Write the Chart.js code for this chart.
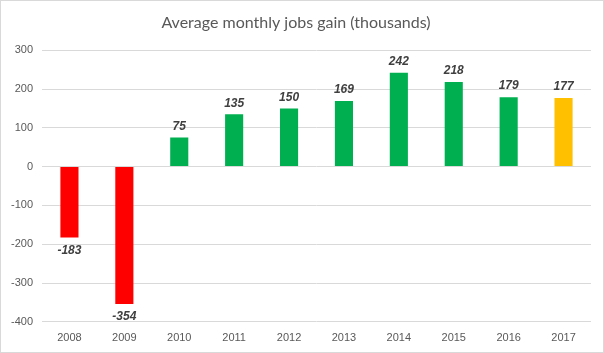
<!DOCTYPE html>
<html lang="en">
<head>
    <meta charset="UTF-8">
    <title>Average monthly jobs gain</title>
    <script src="https://cdn.jsdelivr.net/npm/chart.js"></script>
    <style>
        body {
            margin: 0;
            background-color: white;
        }
        .frame {
            width: 602px;
            height: 351px;
            border: 1px solid #d9d9d9;
        }
    </style>
</head>
<body>
    <div class="frame">
        <canvas id="jobsChart" width="602" height="351"></canvas>
    </div>

    <script>
        // data
        const years = ['2008', '2009', '2010', '2011', '2012', '2013', '2014', '2015', '2016', '2017'];
        const jobsGain = [-183, -354, 75, 135, 150, 169, 242, 218, 179, 177];
        const barColors = ['#ff0000', '#ff0000', '#00b050', '#00b050', '#00b050', '#00b050', '#00b050', '#00b050', '#00b050', '#ffc000'];
        const yTicks = [300, 200, 100, 0, -100, -200, -300, -400];

        // value labels on the bars
        const valueLabels = {
            id: 'valueLabels',
            afterDatasetsDraw(chart) {
                const ctx = chart.ctx;
                const meta = chart.getDatasetMeta(0);
                ctx.save();
                ctx.font = 'italic bold 12px "Liberation Sans", Arial, sans-serif';
                ctx.fillStyle = '#404040';
                ctx.textAlign = 'center';
                ctx.textBaseline = 'middle';
                meta.data.forEach((bar, i) => {
                    const v = jobsGain[i];
                    const y = v >= 0 ? bar.y - 11 : bar.y + 13;
                    ctx.fillText(v, bar.x, y);
                });
                ctx.restore();
            }
        };

        new Chart(document.getElementById('jobsChart'), {
            type: 'bar',
            data: {
                labels: years,
                datasets: [{
                    data: jobsGain,
                    backgroundColor: barColors,
                    barPercentage: 0.33,
                    categoryPercentage: 1
                }]
            },
            options: {
                responsive: false,
                animation: false,
                layout: {
                    padding: { left: 0, right: 12, top: 0, bottom: 5 }
                },
                plugins: {
                    legend: { display: false },
                    tooltip: { enabled: false },
                    title: {
                        display: true,
                        text: 'Average monthly jobs gain (thousands)',
                        color: '#595959',
                        font: { family: 'Lato, sans-serif', size: 16, weight: 'normal' },
                        padding: { top: 12, bottom: 18 }
                    }
                },
                scales: {
                    x: {
                        grid: { display: false },
                        border: { display: false },
                        ticks: {
                            color: '#595959',
                            font: { family: '"Liberation Sans", Arial, sans-serif', size: 11 },
                            padding: 2
                        }
                    },
                    y: {
                        min: -400,
                        max: 300,
                        afterBuildTicks(scale) {
                            scale.ticks = yTicks.map(v => ({ value: v }));
                        },
                        afterFit(scale) {
                            scale.width = 41;
                        },
                        grid: { color: '#d9d9d9', drawTicks: false },
                        border: { display: false },
                        ticks: {
                            color: '#595959',
                            font: { family: '"Liberation Sans", Arial, sans-serif', size: 11 },
                            padding: 9
                        }
                    }
                }
            },
            plugins: [valueLabels]
        });
    </script>
</body>
</html>
